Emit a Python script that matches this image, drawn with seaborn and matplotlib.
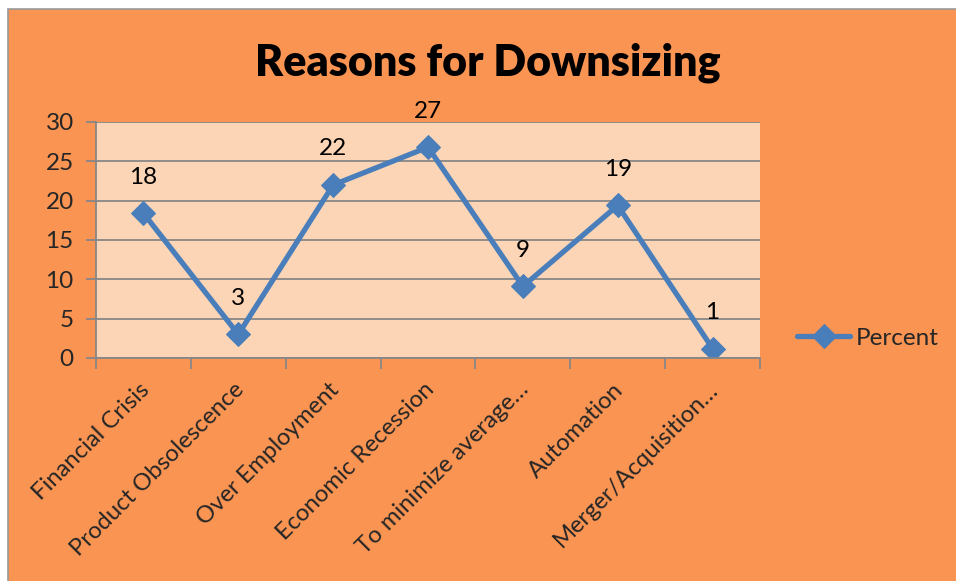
import matplotlib
matplotlib.use("Agg")
import matplotlib.pyplot as plt
import matplotlib.patches as mpatches
import matplotlib.transforms as mtransforms
import seaborn as sns
import pandas as pd

categories = [
    "Financial Crisis",
    "Product Obsolescence",
    "Over Employment",
    "Economic Recession",
    "To minimize average\u2026",
    "Automation",
    "Merger/Acquisition\u2026",
]
percent = [18.4, 3.0, 22.0, 26.8, 9.1, 19.4, 1.2]
y_ticks = [0, 5, 10, 15, 20, 25, 30]

df = pd.DataFrame({"Reason": categories, "Percent": percent})

sns.set_theme(style="white")
plt.rcParams["font.family"] = ["Lato", "DejaVu Sans"]

W, H = 956, 581
fig = plt.figure(figsize=(W / 100, H / 100), dpi=100)
fig.patch.set_facecolor("white")

# chart frame: orange panel with thin grey border on top/left
frame = mpatches.Rectangle((8 / W, -0.05), 1.05, 1 - 9 / H + 0.05,
                           transform=fig.transFigure, facecolor="#F99452",
                           edgecolor="#9A9A9A", linewidth=1.2, zorder=-10)
fig.patches.append(frame)

ax = fig.add_axes([96 / W, 1 - 358 / H, (760 - 96) / W, (358 - 122) / H])
ax.set_facecolor("#FBD5B5")

blue = "#4A7EBB"
sns.lineplot(data=df, x="Reason", y="Percent", ax=ax, color=blue,
             linewidth=3.8, marker="D", markersize=12,
             markeredgecolor=blue, sort=False, label="Percent")

ax.set_xlim(-0.5, len(categories) - 0.5)
ax.set_ylim(0, 30)
ax.set_yticks(y_ticks)
ax.set_yticklabels([str(t) for t in y_ticks], fontsize=17.5)
ax.grid(axis="y", color="#878787", linewidth=1.3)
ax.set_axisbelow(True)

for side in ["top", "right"]:
    ax.spines[side].set_visible(False)
for side in ["left", "bottom"]:
    ax.spines[side].set_color("#878787")
    ax.spines[side].set_linewidth(1.3)

ax.tick_params(axis="y", which="major", direction="out", length=7,
               width=1.3, color="#878787", pad=9, left=True)

# category labels at centres, tick marks on category boundaries
ax.set_xticks(range(len(categories)))
ax.set_xticklabels(categories, rotation=45, ha="right",
                   rotation_mode="anchor", fontsize=17.2)
ax.tick_params(axis="x", which="major", length=0, pad=15)
shift = mtransforms.ScaledTranslation(-5 / 100, 0, fig.dpi_scale_trans)
for lbl in ax.get_xticklabels():
    lbl.set_transform(lbl.get_transform() + shift)
ax.set_xticks([i - 0.5 for i in range(len(categories) + 1)], minor=True)
ax.tick_params(axis="x", which="minor", direction="out", length=8,
               width=1.3, color="#878787", bottom=True)
ax.set_xlabel("")
ax.set_ylabel("")

for i, v in enumerate(percent):
    ax.annotate(f"{v:.0f}", (i, v), xytext=(0, 26), textcoords="offset points",
                ha="center", va="center", fontsize=17.5, color="black")

fig.text(488 / W, 1 - 63 / H, "Reasons for Downsizing", ha="center",
         va="center", fontsize=31, fontweight="heavy", color="black")

leg = ax.legend(loc="center left", bbox_to_anchor=(797 / W, 1 - 338 / H),
                bbox_transform=fig.transFigure, frameon=False, fontsize=17.5,
                handlelength=2.2, handletextpad=0.2, borderaxespad=0,
                borderpad=0)

fig.savefig("out.png", dpi=100, facecolor=fig.get_facecolor())
